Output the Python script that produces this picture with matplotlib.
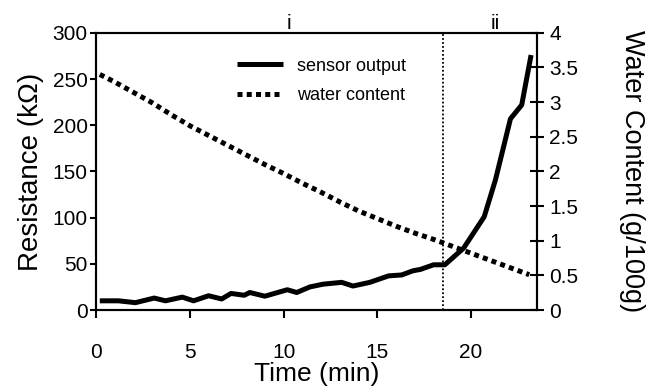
import numpy as np
import matplotlib
matplotlib.use("Agg")
import matplotlib.pyplot as plt

plt.rcParams['font.family'] = ['Liberation Sans', 'DejaVu Sans']

# sensor resistance (kOhm) vs time (min)
sensor_t = [0.2, 1.2, 2.1, 3.1, 3.7, 4.6, 5.2, 6.0, 6.7, 7.2, 7.9, 8.2, 9.0,
            10.2, 10.7, 11.4, 12.1, 13.1, 13.7, 14.6, 15.6, 16.3, 16.9, 17.3,
            18.0, 18.6, 19.6, 20.7, 21.3, 22.1, 22.7, 23.2]
sensor_r = [10, 10, 8, 13, 10, 14, 10, 15.5, 12, 18, 16, 19, 15,
            22, 19, 25, 28, 30, 26, 30, 37, 38, 42.5, 44,
            49, 49, 67, 101, 141, 207, 222, 276]

# water content (g/100g) vs time (min)
water_t = [0.2, 1, 2, 3, 4, 5, 6, 7, 8, 9, 10, 11, 12, 13, 14, 15, 16, 17,
           18, 19, 20, 21, 22, 23.1]
water_c = [3.40, 3.29, 3.14, 2.99, 2.82, 2.66, 2.52, 2.38, 2.24, 2.10, 1.97,
           1.83, 1.70, 1.56, 1.43, 1.32, 1.21, 1.11, 1.02, 0.92, 0.82, 0.72,
           0.62, 0.51]

phase_split = 18.5
phase_labels = [(10.3, "i"), (21.3, "ii")]

fig = plt.figure(figsize=(6.49, 3.91), dpi=100)
ax = fig.add_axes([0.148, 0.207, 0.679, 0.709])
ax2 = ax.twinx()

l1, = ax.plot(sensor_t, sensor_r, color='black', lw=3.6,
              solid_joinstyle='round', solid_capstyle='butt', label='sensor output')
l2, = ax2.plot(water_t, water_c, color='black', lw=3.6,
               linestyle=(0, (1, 0.85)), dash_capstyle='butt', label='water content')
ax.axvline(phase_split, color='black', lw=1.3, linestyle=(0, (1, 1.2)))

for x, s in phase_labels:
    ax.text(x, 1.0, s, transform=ax.get_xaxis_transform(), ha='center',
            va='bottom', fontsize=15)

ax.set_xlim(0, 23.5)
ax.set_ylim(0, 300)
ax2.set_ylim(0, 4)
ax.set_xticks([0, 5, 10, 15, 20])
ax.set_yticks(np.arange(0, 301, 50))
ax2.set_yticks(np.arange(0, 4.01, 0.5))
ax2.set_yticklabels(['0', '0.5', '1', '1.5', '2', '2.5', '3', '3.5', '4'])

ax.tick_params(axis='y', direction='out', length=4, width=1.5, labelsize=15, pad=2)
ax.tick_params(axis='x', direction='out', length=6, width=1.5, labelsize=15, pad=18)
ax2.tick_params(axis='y', direction='inout', length=10, width=1.5, labelsize=15, pad=4)
for a in (ax, ax2):
    for sp in a.spines.values():
        sp.set_linewidth(1.5)

ax.set_xlabel('Time (min)', fontsize=19, labelpad=0)
ax.set_ylabel('Resistance (kΩ)', fontsize=20, labelpad=6)
ax2.set_ylabel('Water Content (g/100g)', fontsize=19.5, rotation=-90, labelpad=48)

ax.legend(handles=[l1, l2], loc='upper left', bbox_to_anchor=(0.32, 0.91),
          frameon=False, fontsize=13, handlelength=2.55, handletextpad=0.78,
          labelspacing=0.7, borderpad=0, borderaxespad=0)

fig.savefig('out.png', dpi=100)
